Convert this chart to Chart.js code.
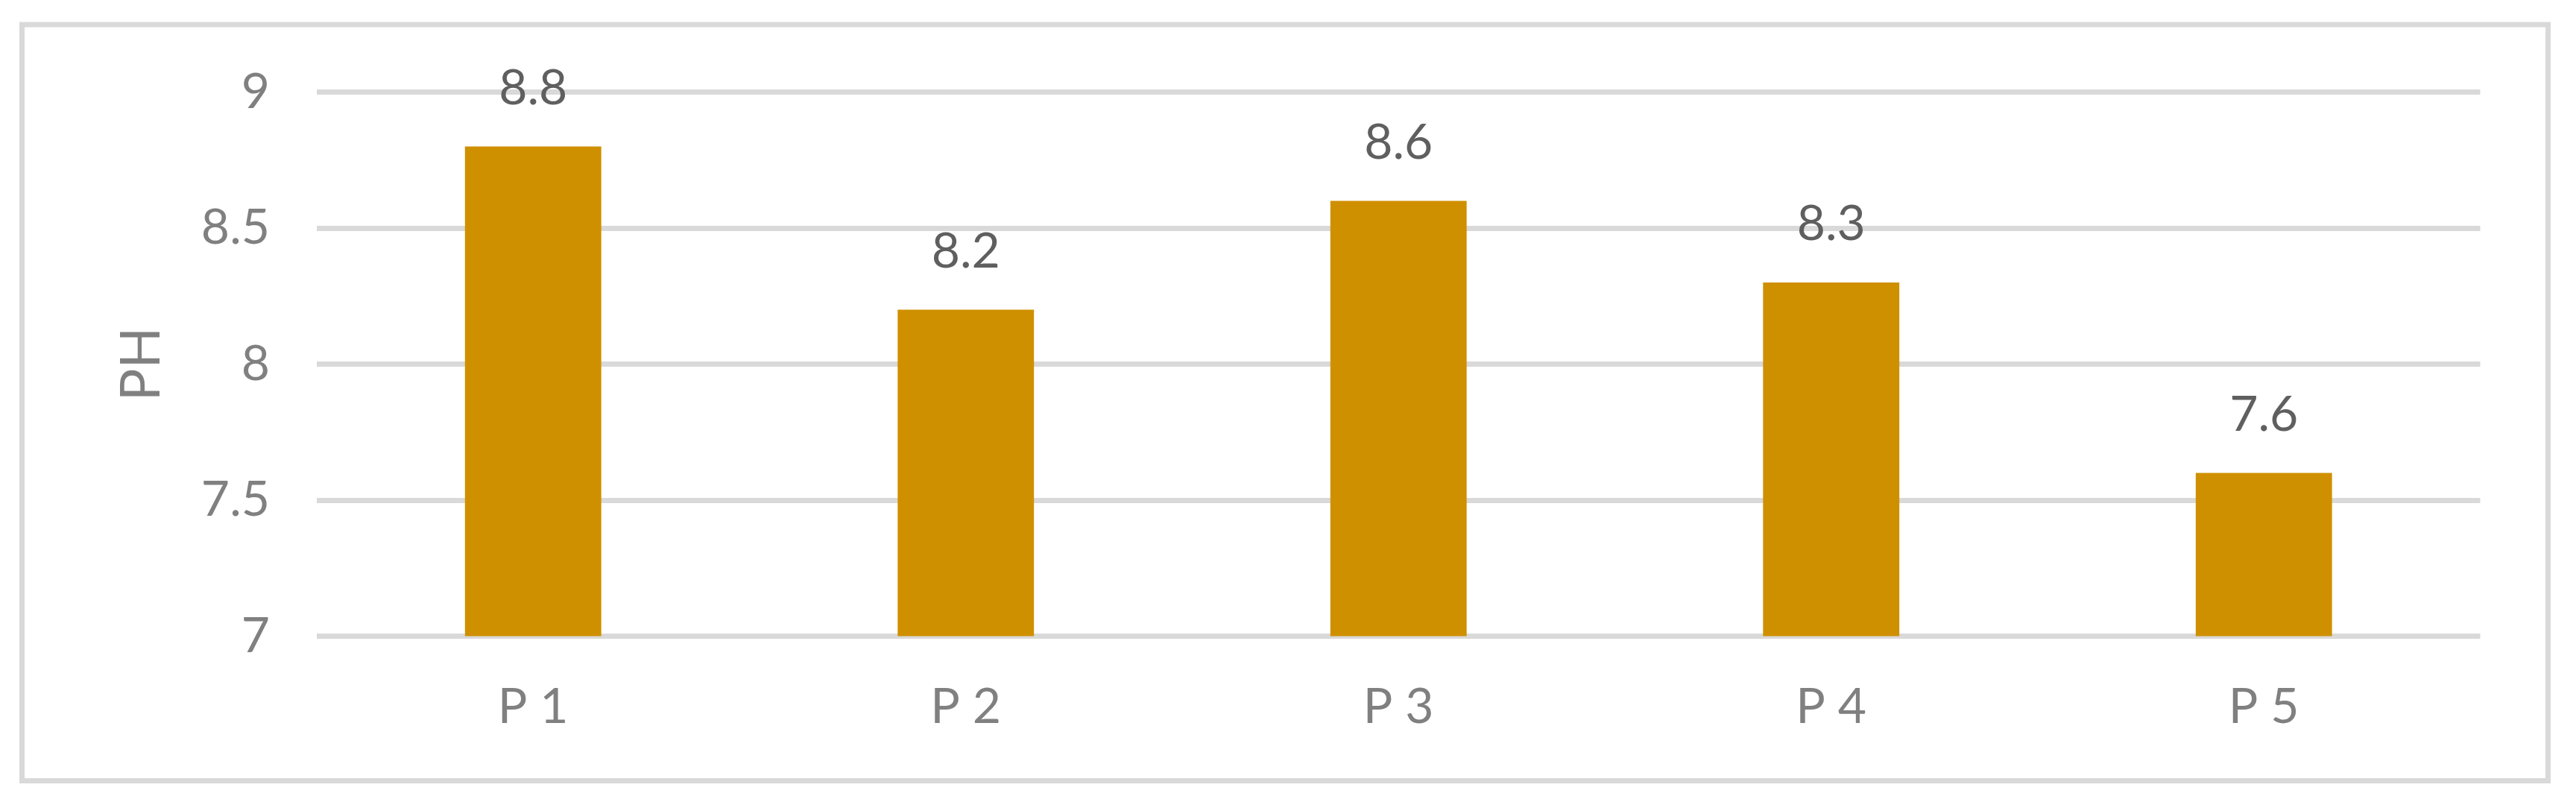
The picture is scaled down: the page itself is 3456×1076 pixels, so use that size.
<!DOCTYPE html>
<html>
<head>
<meta charset="utf-8">
<script src="https://cdn.jsdelivr.net/npm/chart.js@4/dist/chart.umd.min.js"></script>
<style>
  html, body { margin: 0; padding: 0; background: #ffffff; }
  canvas { display: block; }
</style>
</head>
<body>
<canvas id="c" width="3456" height="1076"></canvas>
<script>
// ---- data ----
const categories = ['P 1', 'P 2', 'P 3', 'P 4', 'P 5'];
const phValues = [8.8, 8.2, 8.6, 8.3, 7.6];
const yTicks = [7, 7.5, 8, 8.5, 9];
const yTitle = 'PH';

const FONT = 'Lato, "Open Sans", "DejaVu Sans", sans-serif';

const framePlugin = {
  id: 'frame',
  beforeDraw(chart) {
    const ctx = chart.ctx;
    ctx.save();
    ctx.fillStyle = '#ffffff';
    ctx.fillRect(0, 0, chart.width, chart.height);
    ctx.strokeStyle = '#d9d9d9';
    ctx.lineWidth = 7;
    ctx.strokeRect(29.5, 33, 3389, 1014.5);
    ctx.restore();
  }
};

const valueLabelPlugin = {
  id: 'valueLabels',
  afterDatasetsDraw(chart) {
    const ctx = chart.ctx;
    ctx.save();
    ctx.font = '66px ' + FONT;
    ctx.fillStyle = '#5f5f5f';
    ctx.textAlign = 'center';
    ctx.textBaseline = 'alphabetic';
    chart.data.datasets.forEach((ds, di) => {
      const meta = chart.getDatasetMeta(di);
      meta.data.forEach((bar, i) => {
        ctx.fillText(String(ds.data[i]), bar.x, bar.y - 57);
      });
    });
    ctx.restore();
  }
};

function draw() {
  new Chart(document.getElementById('c'), {
    type: 'bar',
    data: {
      labels: categories,
      datasets: [{
        label: yTitle,
        data: phValues,
        backgroundColor: '#cf9000',
        borderWidth: 0,
        categoryPercentage: 1,
        barPercentage: 0.315
      }]
    },
    options: {
      responsive: false,
      animation: false,
      devicePixelRatio: 1,
      layout: { padding: { left: 140, right: 128.5, top: 123.5, bottom: 0 } },
      plugins: {
        legend: { display: false },
        tooltip: { enabled: false },
        title: { display: false }
      },
      scales: {
        x: {
          grid: { display: false, drawTicks: false },
          border: { display: false },
          ticks: { color: '#808080', font: { family: FONT, size: 66 }, padding: 56, maxRotation: 0 },
          afterFit(scale) { scale.height = 222.5; }
        },
        y: {
          min: 7,
          max: 9,
          afterBuildTicks(scale) { scale.ticks = yTicks.map(v => ({ value: v })); },
          grid: { color: '#d9d9d9', lineWidth: 7, drawTicks: false },
          border: { display: false },
          ticks: {
            color: '#808080',
            font: { family: FONT, size: 66 },
            padding: 63,
            callback: (v) => String(v)
          },
          title: {
            display: true,
            text: yTitle,
            color: '#808080',
            font: { family: FONT, size: 73 },
            padding: { top: 7, bottom: 0 }
          },
          afterFit(scale) { scale.width = 285; }
        }
      }
    },
    plugins: [framePlugin, valueLabelPlugin]
  });
}

if (document.fonts && document.fonts.load) {
  Promise.all([document.fonts.load('66px Lato'), document.fonts.load('73px Lato')])
    .then(draw, draw);
} else {
  draw();
}
</script>
</body>
</html>
